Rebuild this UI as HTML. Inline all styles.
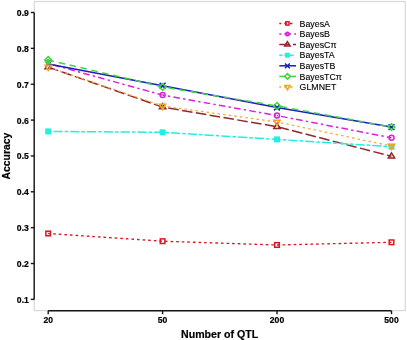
<!DOCTYPE html>
<html><head><meta charset="utf-8"><style>
html,body{margin:0;padding:0;background:#fff;}
body{width:407px;height:340px;overflow:hidden;}
svg{display:block;}
text{font-family:"Liberation Sans",sans-serif;fill:#000;}
.tk,.ttl{stroke:#000;stroke-width:0.2px;}
.lg{stroke:#000;stroke-width:0.12px;}
svg{will-change:transform;}
.tk{font-size:8.6px;font-weight:bold;}
.ttl{font-size:10.6px;font-weight:bold;}
.lg{font-size:8.8px;}
</style></head><body>
<svg width="407" height="340" viewBox="0 0 407 340">
<rect width="407" height="340" fill="#fff"/>
<rect x="34.3" y="1.5" width="371" height="309.1" fill="none" stroke="#d8d8d8" stroke-width="1.2"/>
<path d="M48.20 233.50 L162.60 241.20" fill="none" stroke="#dc1420" stroke-width="1.35" stroke-dasharray="2.6 3.0" stroke-dashoffset="0.60"/>
<path d="M162.60 241.20 L277.00 245.00" fill="none" stroke="#dc1420" stroke-width="1.35" stroke-dasharray="2.6 3.0" stroke-dashoffset="115.26"/>
<path d="M277.00 245.00 L391.50 242.30" fill="none" stroke="#dc1420" stroke-width="1.35" stroke-dasharray="2.6 3.0" stroke-dashoffset="229.72"/>
<path d="M48.20 63.50 L162.60 95.10" fill="none" stroke="#dc20dc" stroke-width="1.5" stroke-dasharray="2.4 3.2 6.6 3.2" stroke-dashoffset="0.00"/>
<path d="M162.60 95.10 L277.00 115.60" fill="none" stroke="#dc20dc" stroke-width="1.5" stroke-dasharray="2.4 3.2 6.6 3.2" stroke-dashoffset="117.83"/>
<path d="M277.00 115.60 L391.50 137.80" fill="none" stroke="#dc20dc" stroke-width="1.5" stroke-dasharray="2.4 3.2 6.6 3.2" stroke-dashoffset="232.51"/>
<path d="M48.20 67.10 L162.60 107.10" fill="none" stroke="#92262e" stroke-width="1.5" stroke-dasharray="10.6 3.4" stroke-dashoffset="-0.10"/>
<path d="M162.60 107.10 L277.00 126.70" fill="none" stroke="#92262e" stroke-width="1.5" stroke-dasharray="10.6 3.4" stroke-dashoffset="120.29"/>
<path d="M277.00 126.70 L391.50 156.30" fill="none" stroke="#92262e" stroke-width="1.5" stroke-dasharray="10.6 3.4" stroke-dashoffset="236.46"/>
<path d="M48.20 131.40 L162.60 132.30" fill="none" stroke="#1ef0e2" stroke-width="1.5" stroke-dasharray="3.6 2.0 9.2 2.0" stroke-dashoffset="0.40"/>
<path d="M162.60 132.30 L277.00 139.40" fill="none" stroke="#1ef0e2" stroke-width="1.5" stroke-dasharray="3.6 2.0 9.2 2.0" stroke-dashoffset="114.80"/>
<path d="M277.00 139.40 L391.50 146.70" fill="none" stroke="#1ef0e2" stroke-width="1.5" stroke-dasharray="3.6 2.0 9.2 2.0" stroke-dashoffset="229.42"/>
<polyline points="48.20,63.90 162.60,85.70 277.00,107.50 391.50,127.10" fill="none" stroke="#1c1cb8" stroke-width="1.5"/>
<path d="M48.20 60.00 L162.60 86.90" fill="none" stroke="#3ad83a" stroke-width="1.5" stroke-dasharray="6.4 4.8" stroke-dashoffset="0.40"/>
<path d="M162.60 86.90 L277.00 105.90" fill="none" stroke="#3ad83a" stroke-width="1.5" stroke-dasharray="6.4 4.8" stroke-dashoffset="117.32"/>
<path d="M277.00 105.90 L391.50 127.10" fill="none" stroke="#3ad83a" stroke-width="1.5" stroke-dasharray="6.4 4.8" stroke-dashoffset="231.29"/>
<path d="M48.20 67.00 L162.60 106.00" fill="none" stroke="#f0ae42" stroke-width="1.3" stroke-dasharray="2.6 3.0" stroke-dashoffset="-1.40"/>
<path d="M162.60 106.00 L277.00 122.00" fill="none" stroke="#f0ae42" stroke-width="1.3" stroke-dasharray="2.6 3.0" stroke-dashoffset="118.07"/>
<path d="M277.00 122.00 L391.50 146.00" fill="none" stroke="#f0ae42" stroke-width="1.3" stroke-dasharray="2.6 3.0" stroke-dashoffset="236.98"/>
<rect x="45.90" y="231.20" width="4.60" height="4.60" fill="none" stroke="#dc1420" stroke-width="1.5"/>
<rect x="160.30" y="238.90" width="4.60" height="4.60" fill="none" stroke="#dc1420" stroke-width="1.5"/>
<rect x="274.70" y="242.70" width="4.60" height="4.60" fill="none" stroke="#dc1420" stroke-width="1.5"/>
<rect x="389.20" y="240.00" width="4.60" height="4.60" fill="none" stroke="#dc1420" stroke-width="1.5"/>
<circle cx="162.60" cy="95.10" r="2.50" fill="none" stroke="#dc20dc" stroke-width="1.5"/>
<circle cx="277.00" cy="115.60" r="2.50" fill="none" stroke="#dc20dc" stroke-width="1.5"/>
<circle cx="391.50" cy="137.80" r="2.50" fill="none" stroke="#dc20dc" stroke-width="1.5"/>
<path d="M48.20 63.65 L51.41 68.82 L44.99 68.82 Z" fill="none" stroke="#92262e" stroke-width="1.5"/>
<path d="M162.60 103.65 L165.81 108.82 L159.39 108.82 Z" fill="none" stroke="#92262e" stroke-width="1.5"/>
<path d="M277.00 123.25 L280.21 128.43 L273.79 128.43 Z" fill="none" stroke="#92262e" stroke-width="1.5"/>
<path d="M391.50 152.85 L394.71 158.03 L388.29 158.03 Z" fill="none" stroke="#92262e" stroke-width="1.5"/>
<rect x="45.20" y="128.40" width="6.00" height="6.00" fill="#1ef0e2"/>
<rect x="159.60" y="129.30" width="6.00" height="6.00" fill="#1ef0e2"/>
<rect x="274.00" y="136.40" width="6.00" height="6.00" fill="#1ef0e2"/>
<rect x="388.50" y="143.70" width="6.00" height="6.00" fill="#1ef0e2"/>
<path d="M45.30 61.00 L51.10 66.80 M51.10 61.00 L45.30 66.80" stroke="#1c1cb8" stroke-width="1.5"/>
<path d="M159.70 82.80 L165.50 88.60 M165.50 82.80 L159.70 88.60" stroke="#1c1cb8" stroke-width="1.5"/>
<path d="M274.10 104.60 L279.90 110.40 M279.90 104.60 L274.10 110.40" stroke="#1c1cb8" stroke-width="1.5"/>
<path d="M388.60 124.20 L394.40 130.00 M394.40 124.20 L388.60 130.00" stroke="#1c1cb8" stroke-width="1.5"/>
<path d="M48.20 56.60 L51.60 60.00 L48.20 63.40 L44.80 60.00 Z" fill="none" stroke="#3ad83a" stroke-width="1.5"/>
<circle cx="47.9" cy="62.0" r="2.5" fill="#3ad83a"/>
<path d="M45.6 61.0 A2.5 2.5 0 0 1 50.2 61.0" fill="none" stroke="#8a8a8a" stroke-width="0.8"/>
<path d="M162.60 83.50 L166.00 86.90 L162.60 90.30 L159.20 86.90 Z" fill="none" stroke="#3ad83a" stroke-width="1.5"/>
<path d="M277.00 102.50 L280.40 105.90 L277.00 109.30 L273.60 105.90 Z" fill="none" stroke="#3ad83a" stroke-width="1.5"/>
<path d="M391.50 123.70 L394.90 127.10 L391.50 130.50 L388.10 127.10 Z" fill="none" stroke="#3ad83a" stroke-width="1.5"/>
<path d="M48.20 70.60 L51.32 65.20 L45.08 65.20 Z" fill="none" stroke="#eea526" stroke-width="1.5"/>
<path d="M162.60 109.60 L165.72 104.20 L159.48 104.20 Z" fill="none" stroke="#eea526" stroke-width="1.5"/>
<path d="M277.00 125.60 L280.12 120.20 L273.88 120.20 Z" fill="none" stroke="#eea526" stroke-width="1.5"/>
<path d="M391.50 149.60 L394.62 144.20 L388.38 144.20 Z" fill="none" stroke="#eea526" stroke-width="1.5"/>
<path d="M34.2 12.5 V299.5" stroke="#151515" stroke-width="1.4" fill="none"/>
<path d="M30.8 12.50 H34.2" stroke="#151515" stroke-width="1.4"/>
<text transform="translate(28.8 15.95) scale(1 1.07)" text-anchor="end" class="tk">0.9</text>
<path d="M30.8 48.36 H34.2" stroke="#151515" stroke-width="1.4"/>
<text transform="translate(28.8 51.81) scale(1 1.07)" text-anchor="end" class="tk">0.8</text>
<path d="M30.8 84.22 H34.2" stroke="#151515" stroke-width="1.4"/>
<text transform="translate(28.8 87.67) scale(1 1.07)" text-anchor="end" class="tk">0.7</text>
<path d="M30.8 120.08 H34.2" stroke="#151515" stroke-width="1.4"/>
<text transform="translate(28.8 123.53) scale(1 1.07)" text-anchor="end" class="tk">0.6</text>
<path d="M30.8 155.94 H34.2" stroke="#151515" stroke-width="1.4"/>
<text transform="translate(28.8 159.39) scale(1 1.07)" text-anchor="end" class="tk">0.5</text>
<path d="M30.8 191.80 H34.2" stroke="#151515" stroke-width="1.4"/>
<text transform="translate(28.8 195.25) scale(1 1.07)" text-anchor="end" class="tk">0.4</text>
<path d="M30.8 227.66 H34.2" stroke="#151515" stroke-width="1.4"/>
<text transform="translate(28.8 231.11) scale(1 1.07)" text-anchor="end" class="tk">0.3</text>
<path d="M30.8 263.52 H34.2" stroke="#151515" stroke-width="1.4"/>
<text transform="translate(28.8 266.97) scale(1 1.07)" text-anchor="end" class="tk">0.2</text>
<path d="M30.8 299.38 H34.2" stroke="#151515" stroke-width="1.4"/>
<text transform="translate(28.8 302.83) scale(1 1.07)" text-anchor="end" class="tk">0.1</text>
<path d="M48.2 310.8 H391.5" stroke="#151515" stroke-width="1.4" fill="none"/>
<path d="M48.20 310.8 V314.2" stroke="#151515" stroke-width="1.4"/>
<text transform="translate(48.20 323.4) scale(1 1.07)" text-anchor="middle" class="tk">20</text>
<path d="M162.60 310.8 V314.2" stroke="#151515" stroke-width="1.4"/>
<text transform="translate(162.60 323.4) scale(1 1.07)" text-anchor="middle" class="tk">50</text>
<path d="M277.00 310.8 V314.2" stroke="#151515" stroke-width="1.4"/>
<text transform="translate(277.00 323.4) scale(1 1.07)" text-anchor="middle" class="tk">200</text>
<path d="M391.50 310.8 V314.2" stroke="#151515" stroke-width="1.4"/>
<text transform="translate(391.50 323.4) scale(1 1.07)" text-anchor="middle" class="tk">500</text>
<text x="219.6" y="337.9" text-anchor="middle" class="ttl">Number of QTL</text>
<text transform="translate(9.8 156.1) rotate(-90)" x="0" y="0" text-anchor="middle" class="ttl" style="font-size:10.4px">Accuracy</text>
<path d="M279.3 23.40 H294.6" stroke="#dc1420" stroke-width="1.5" stroke-dasharray="2.6 3.0" stroke-dashoffset="0.6"/>
<rect x="285.79" y="21.79" width="3.22" height="3.22" fill="none" stroke="#dc1420" stroke-width="1.5"/>
<text x="299.6" y="26.60" class="lg">BayesA</text>
<path d="M279.3 34.00 H296" stroke="#dc20dc" stroke-width="1.5" stroke-dasharray="2.4 3.2 6.6 3.2" stroke-dashoffset="0.5"/>
<circle cx="287.40" cy="34.00" r="1.75" fill="none" stroke="#dc20dc" stroke-width="1.5"/>
<text x="299.6" y="37.20" class="lg">BayesB</text>
<path d="M279.3 44.60 H296" stroke="#92262e" stroke-width="1.5" stroke-dasharray="10.6 3.4" stroke-dashoffset="0.4"/>
<path d="M287.40 41.63 L290.16 46.08 L284.64 46.08 Z" fill="none" stroke="#92262e" stroke-width="1.5"/>
<text x="299.6" y="47.80" class="lg">BayesCπ</text>
<path d="M279.3 55.20 H295.5" stroke="#1ef0e2" stroke-width="1.5" stroke-dasharray="3.6 2.0 9.2 2.0" stroke-dashoffset="0.4"/>
<rect x="284.94" y="52.74" width="4.92" height="4.92" fill="#1ef0e2"/>
<text x="299.6" y="58.40" class="lg">BayesTA</text>
<path d="M279.3 65.80 H296" stroke="#1c1cb8" stroke-width="1.5"/>
<path d="M285.02 63.42 L289.78 68.18 M289.78 63.42 L285.02 68.18" stroke="#1c1cb8" stroke-width="1.5"/>
<text x="299.6" y="69.00" class="lg">BayesTB</text>
<path d="M279.3 76.40 H296" stroke="#3ad83a" stroke-width="1.5"/>
<path d="M287.40 73.61 L290.19 76.40 L287.40 79.19 L284.61 76.40 Z" fill="#fff" stroke="#3ad83a" stroke-width="1.5"/>
<text x="299.6" y="79.60" class="lg">BayesTCπ</text>
<path d="M279.3 87.00 H294.6" stroke="#eea526" stroke-width="1.5" stroke-dasharray="2.6 3.0" stroke-dashoffset="0.6"/>
<path d="M287.40 89.84 L289.86 85.58 L284.94 85.58 Z" fill="none" stroke="#eea526" stroke-width="1.5"/>
<text x="299.6" y="90.20" class="lg">GLMNET</text>
</svg>
</body></html>
